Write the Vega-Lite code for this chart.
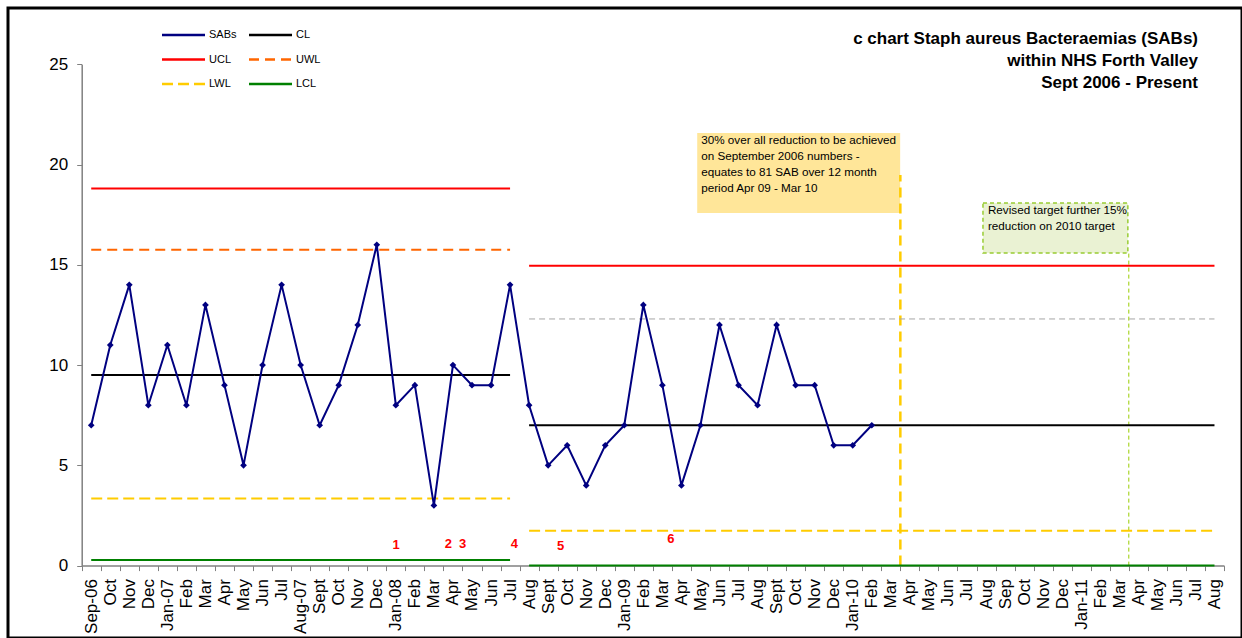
{
  "$schema": "https://vega.github.io/schema/vega-lite/v6.json",
  "autosize": {"type": "none"},
  "padding": {"left": 8, "top": 8, "right": 0, "bottom": 0},
  "width": 1234,
  "height": 630,
  "background": "white",
  "config": {
    "view": {"stroke": "black", "strokeWidth": 3},
    "font": "Liberation Sans",
    "text": {"font": "Liberation Sans"}
  },
  "title": {
    "text": ["c chart Staph aureus Bacteraemias (SABs)", "within NHS Forth Valley", "Sept 2006 - Present"],
    "anchor": "end",
    "frame": "group",
    "orient": "top",
    "baseline": "top",
    "offset": 0,
    "dx": -44,
    "dy": 84,
    "fontSize": 17,
    "fontWeight": "bold",
    "font": "Liberation Sans",
    "color": "black",
    "lineHeight": 22
  },
  "datasets": {
    "sabs": [
      {"i": 0, "month": "Sep-06", "sabs": 7},
      {"i": 1, "month": "Oct", "sabs": 11},
      {"i": 2, "month": "Nov", "sabs": 14},
      {"i": 3, "month": "Dec", "sabs": 8},
      {"i": 4, "month": "Jan-07", "sabs": 11},
      {"i": 5, "month": "Feb", "sabs": 8},
      {"i": 6, "month": "Mar", "sabs": 13},
      {"i": 7, "month": "Apr", "sabs": 9},
      {"i": 8, "month": "May", "sabs": 5},
      {"i": 9, "month": "Jun", "sabs": 10},
      {"i": 10, "month": "Jul", "sabs": 14},
      {"i": 11, "month": "Aug-07", "sabs": 10},
      {"i": 12, "month": "Sept", "sabs": 7},
      {"i": 13, "month": "Oct", "sabs": 9},
      {"i": 14, "month": "Nov", "sabs": 12},
      {"i": 15, "month": "Dec", "sabs": 16},
      {"i": 16, "month": "Jan-08", "sabs": 8},
      {"i": 17, "month": "Feb", "sabs": 9},
      {"i": 18, "month": "Mar", "sabs": 3},
      {"i": 19, "month": "Apr", "sabs": 10},
      {"i": 20, "month": "May", "sabs": 9},
      {"i": 21, "month": "Jun", "sabs": 9},
      {"i": 22, "month": "Jul", "sabs": 14},
      {"i": 23, "month": "Aug", "sabs": 8},
      {"i": 24, "month": "Sept", "sabs": 5},
      {"i": 25, "month": "Oct", "sabs": 6},
      {"i": 26, "month": "Nov", "sabs": 4},
      {"i": 27, "month": "Dec", "sabs": 6},
      {"i": 28, "month": "Jan-09", "sabs": 7},
      {"i": 29, "month": "Feb", "sabs": 13},
      {"i": 30, "month": "Mar", "sabs": 9},
      {"i": 31, "month": "Apr", "sabs": 4},
      {"i": 32, "month": "May", "sabs": 7},
      {"i": 33, "month": "Jun", "sabs": 12},
      {"i": 34, "month": "Jul", "sabs": 9},
      {"i": 35, "month": "Aug", "sabs": 8},
      {"i": 36, "month": "Sept", "sabs": 12},
      {"i": 37, "month": "Oct", "sabs": 9},
      {"i": 38, "month": "Nov", "sabs": 9},
      {"i": 39, "month": "Dec", "sabs": 6},
      {"i": 40, "month": "Jan-10", "sabs": 6},
      {"i": 41, "month": "Feb", "sabs": 7}
    ],
    "limits": [
      {"series": "CL", "start": 0, "end": 22, "value": 9.5},
      {"series": "UCL", "start": 0, "end": 22, "value": 18.8},
      {"series": "UWL", "start": 0, "end": 22, "value": 15.75},
      {"series": "LWL", "start": 0, "end": 22, "value": 3.35},
      {"series": "LCL", "start": 0, "end": 22, "value": 0.28},
      {"series": "CL", "start": 23, "end": 59, "value": 7.0},
      {"series": "UCL", "start": 23, "end": 59, "value": 14.95},
      {"series": "LWL", "start": 23, "end": 59, "value": 1.74},
      {"series": "LCL", "start": 23, "end": 59, "value": 0}
    ],
    "notes": [
      {"note": "1", "x": 16.01, "y": 1.03},
      {"note": "2", "x": 18.76, "y": 1.08},
      {"note": "3", "x": 19.51, "y": 1.08},
      {"note": "4", "x": 22.22, "y": 1.08},
      {"note": "5", "x": 24.66, "y": 0.98},
      {"note": "6", "x": 30.44, "y": 1.31}
    ]
  },
  "encoding": {
    "x": {
      "type": "quantitative",
      "scale": {"domain": [-0.5, 59.5], "range": [73.7, 1216], "nice": false, "zero": false},
      "axis": {
        "title": null,
        "grid": false,
        "offset": -72.4,
        "values": [-0.5, 0.5, 1.5, 2.5, 3.5, 4.5, 5.5, 6.5, 7.5, 8.5, 9.5, 10.5, 11.5, 12.5, 13.5, 14.5, 15.5, 16.5, 17.5, 18.5, 19.5, 20.5, 21.5, 22.5, 23.5, 24.5, 25.5, 26.5, 27.5, 28.5, 29.5, 30.5, 31.5, 32.5, 33.5, 34.5, 35.5, 36.5, 37.5, 38.5, 39.5, 40.5, 41.5, 42.5, 43.5, 44.5, 45.5, 46.5, 47.5, 48.5, 49.5, 50.5, 51.5, 52.5, 53.5, 54.5, 55.5, 56.5, 57.5, 58.5, 59.5],
        "labelExpr": "['Sep-06','Oct','Nov','Dec','Jan-07','Feb','Mar','Apr','May','Jun','Jul','Aug-07','Sept','Oct','Nov','Dec','Jan-08','Feb','Mar','Apr','May','Jun','Jul','Aug','Sept','Oct','Nov','Dec','Jan-09','Feb','Mar','Apr','May','Jun','Jul','Aug','Sept','Oct','Nov','Dec','Jan-10','Feb','Mar','Apr','May','Jun','Jul','Aug','Sep','Oct','Nov','Dec','Jan-11','Feb','Mar','Apr','May','Jun','Jul','Aug'][round(datum.value + 0.5)] || ''",
        "labelAngle": -90,
        "labelAlign": "right",
        "labelBaseline": "middle",
        "labelOffset": 9.52,
        "labelOverlap": false,
        "labelFlush": false,
        "labelBound": false,
        "labelFontSize": 17,
        "labelFont": "Liberation Sans",
        "labelColor": "black",
        "labelPadding": 8,
        "tickSize": 5,
        "tickColor": "#808080",
        "domainColor": "#808080",
        "domainWidth": 1.5
      }
    },
    "y": {
      "type": "quantitative",
      "scale": {"domain": [0, 25], "range": [557.6, 56.3], "nice": false, "zero": false},
      "axis": {
        "title": null,
        "grid": false,
        "offset": -73.7,
        "values": [0, 5, 10, 15, 20, 25],
        "labelFontSize": 17,
        "labelFont": "Liberation Sans",
        "labelColor": "black",
        "labelPadding": 9,
        "tickSize": 5,
        "tickColor": "#808080",
        "domainColor": "#808080",
        "domainWidth": 1.5
      }
    }
  },
  "layer": [
    {
      "data": {"values": [
        {"box": "target", "x1": 31.83, "x2": 42.49, "top": 21.58, "bottom": 17.59}
      ]},
      "mark": {"type": "rect", "fill": "#ffe699", "stroke": null},
      "encoding": {
        "x": {"field": "x1", "type": "quantitative"},
        "x2": {"field": "x2"},
        "y": {"field": "top", "type": "quantitative"},
        "y2": {"field": "bottom"}
      }
    },
    {
      "data": {"values": [
        {"box": "revised", "x1": 46.84, "x2": 54.45, "top": 18.08, "bottom": 15.59}
      ]},
      "mark": {"type": "rect", "fill": "#eaf2d3", "stroke": "#99cc33", "strokeWidth": 1.5, "strokeDash": [4, 3]},
      "encoding": {
        "x": {"field": "x1", "type": "quantitative"},
        "x2": {"field": "x2"},
        "y": {"field": "top", "type": "quantitative"},
        "y2": {"field": "bottom"}
      }
    },
    {
      "data": {"values": [
        {"x": 42.5, "from": 0, "to": 19.48}
      ]},
      "mark": {"type": "rule", "color": "#ffcc00", "strokeWidth": 2.5, "strokeDash": [10, 6]},
      "encoding": {
        "x": {"field": "x", "type": "quantitative"},
        "y": {"field": "from", "type": "quantitative"},
        "y2": {"field": "to"}
      }
    },
    {
      "data": {"values": [
        {"x": 54.5, "from": 0, "to": 15.59}
      ]},
      "mark": {"type": "rule", "color": "#99cc00", "strokeWidth": 1, "strokeDash": [4, 3]},
      "encoding": {
        "x": {"field": "x", "type": "quantitative"},
        "y": {"field": "from", "type": "quantitative"},
        "y2": {"field": "to"}
      }
    },
    {
      "data": {"values": [
        {"start": 23, "end": 59, "value": 12.3}
      ]},
      "mark": {"type": "rule", "color": "#a6a6a6", "strokeWidth": 1, "strokeDash": [6, 4]},
      "encoding": {
        "x": {"field": "start", "type": "quantitative"},
        "x2": {"field": "end"},
        "y": {"field": "value", "type": "quantitative"}
      }
    },
    {
      "data": {"name": "limits"},
      "mark": {"type": "rule", "strokeWidth": 2},
      "encoding": {
        "x": {"field": "start", "type": "quantitative"},
        "x2": {"field": "end"},
        "y": {"field": "value", "type": "quantitative"},
        "color": {
          "field": "series",
          "type": "nominal",
          "scale": {
            "domain": ["SABs", "CL", "UCL", "UWL", "LWL", "LCL"],
            "range": ["#000080", "#000000", "#ff0000", "#ff6600", "#ffcc00", "#008000"]
          },
          "legend": {
            "title": null,
            "orient": "none",
            "legendX": 161.5,
            "legendY": 13,
            "direction": "horizontal",
            "columns": 2,
            "padding": 0,
            "symbolType": "M-1.72,0H1.72",
            "symbolSize": 625,
            "symbolStrokeWidth": 2.5,
            "labelFontSize": 11,
            "labelFont": "Liberation Sans",
            "labelColor": "black",
            "labelOffset": 11.5,
            "rowPadding": 5.5,
            "columnPadding": 6
          }
        },
        "strokeDash": {
          "field": "series",
          "type": "nominal",
          "scale": {
            "domain": ["SABs", "CL", "UCL", "UWL", "LWL", "LCL"],
            "range": [[1, 0], [1, 0], [1, 0], [10, 6], [11, 5], [1, 0]]
          },
          "legend": {
            "title": null,
            "orient": "none",
            "legendX": 161.5,
            "legendY": 13,
            "direction": "horizontal",
            "columns": 2,
            "padding": 0,
            "symbolType": "M-1.72,0H1.72",
            "symbolSize": 625,
            "symbolStrokeWidth": 2.5,
            "labelFontSize": 11,
            "labelFont": "Liberation Sans",
            "labelColor": "black",
            "labelOffset": 11.5,
            "rowPadding": 5.5,
            "columnPadding": 6
          }
        }
      }
    },
    {
      "data": {"name": "sabs"},
      "mark": {"type": "line", "color": "#000080", "strokeWidth": 2},
      "encoding": {
        "x": {"field": "i", "type": "quantitative"},
        "y": {"field": "sabs", "type": "quantitative"}
      }
    },
    {
      "data": {"name": "sabs"},
      "mark": {"type": "point", "shape": "diamond", "filled": true, "color": "#000080", "size": 45, "opacity": 1},
      "encoding": {
        "x": {"field": "i", "type": "quantitative"},
        "y": {"field": "sabs", "type": "quantitative"}
      }
    },
    {
      "data": {"values": [
        {"text": "30% over all reduction to be achieved\non September 2006 numbers -\nequates to 81 SAB over 12 month\nperiod Apr 09 - Mar 10", "x": 32.04, "y": 21.48}
      ]},
      "mark": {"type": "text", "align": "left", "baseline": "top", "fontSize": 11.7, "lineHeight": 16, "lineBreak": "\n", "color": "black"},
      "encoding": {
        "x": {"field": "x", "type": "quantitative"},
        "y": {"field": "y", "type": "quantitative"},
        "text": {"field": "text"}
      }
    },
    {
      "data": {"values": [
        {"text": "Revised target further 15%\nreduction on 2010 target", "x": 47.1, "y": 17.96}
      ]},
      "mark": {"type": "text", "align": "left", "baseline": "top", "fontSize": 11.7, "lineHeight": 16, "lineBreak": "\n", "color": "black"},
      "encoding": {
        "x": {"field": "x", "type": "quantitative"},
        "y": {"field": "y", "type": "quantitative"},
        "text": {"field": "text"}
      }
    },
    {
      "data": {"name": "notes"},
      "mark": {"type": "text", "align": "center", "baseline": "middle", "fontSize": 13, "fontWeight": "bold", "color": "#ff0000"},
      "encoding": {
        "x": {"field": "x", "type": "quantitative"},
        "y": {"field": "y", "type": "quantitative"},
        "text": {"field": "note"}
      }
    }
  ]
}
